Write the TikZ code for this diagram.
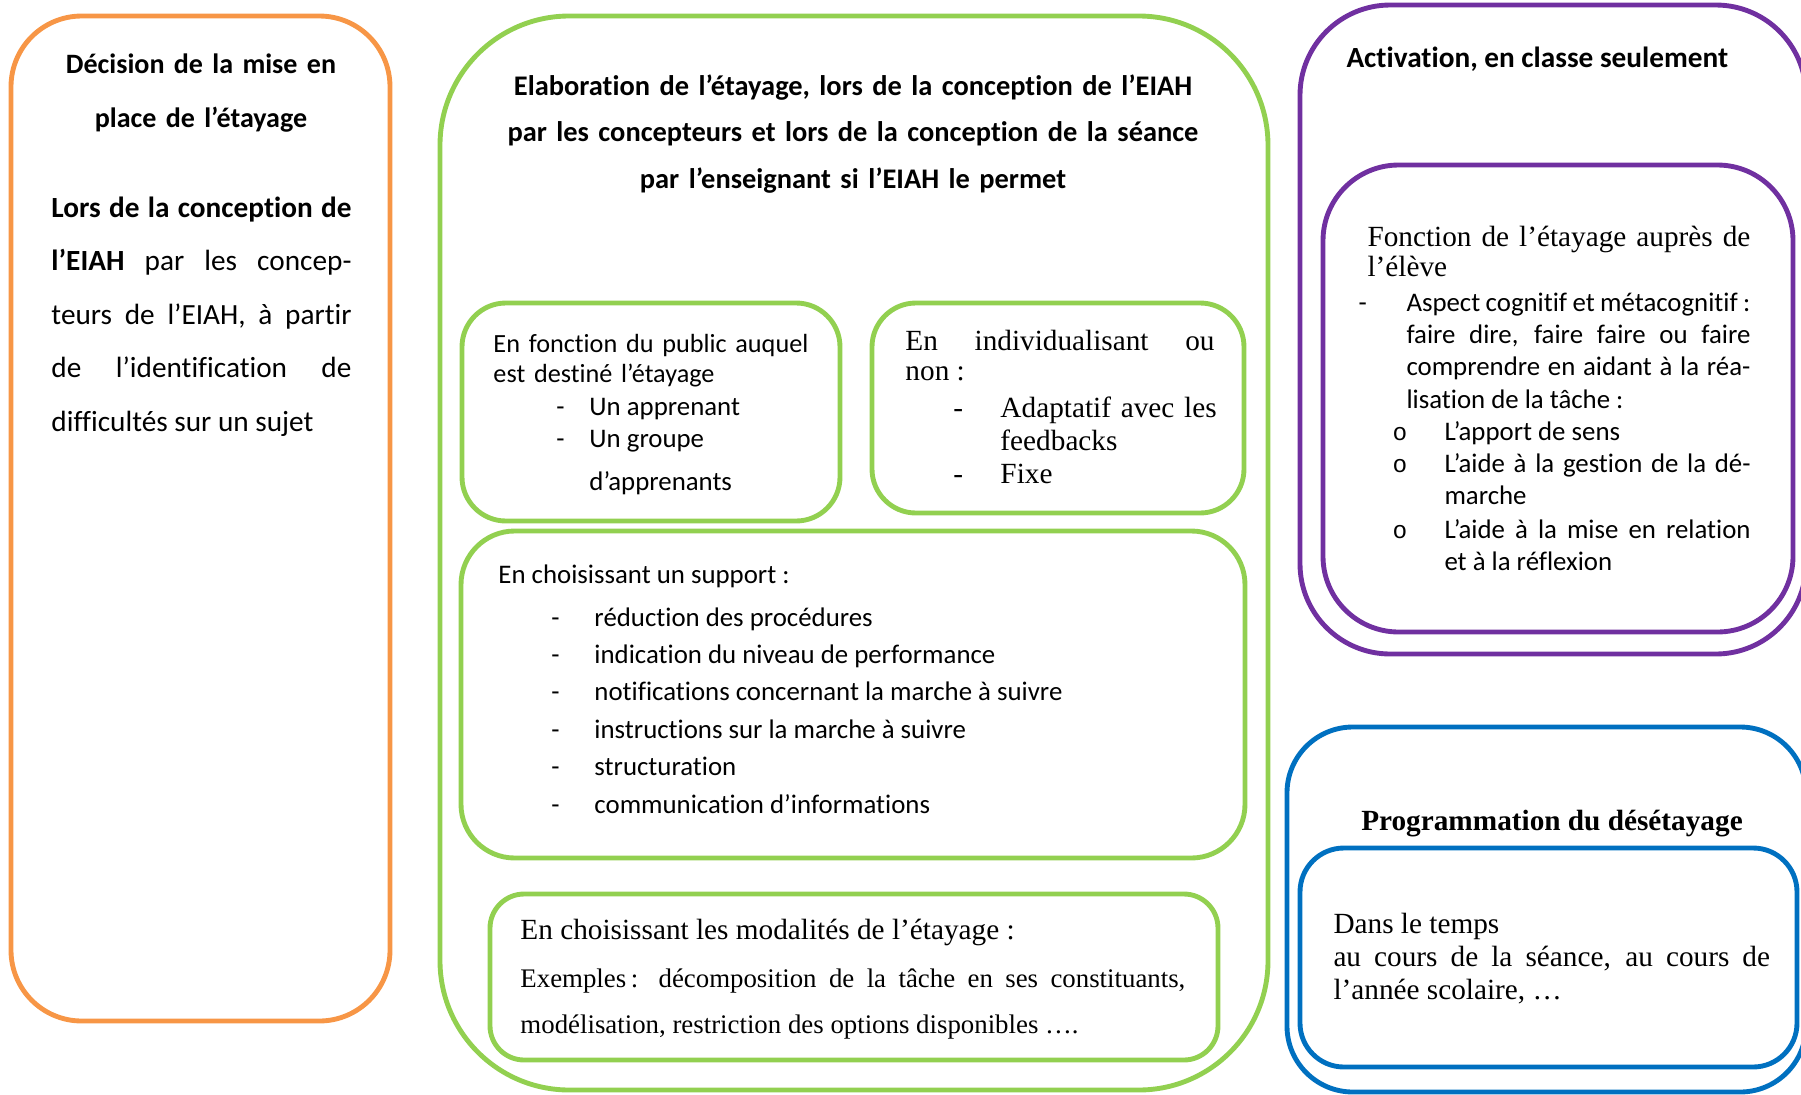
\documentclass[tikz,border=0pt]{standalone}
\usepackage{fontspec}
\setmainfont{Carlito}[Ligatures=NoCommon]
\newfontfamily\timesfont{Liberation Serif}[Ligatures=NoCommon]
\newfontfamily\monofont{Liberation Mono}
\usetikzlibrary{fit}

\definecolor{orangeline}{HTML}{F79646}
\definecolor{greenline}{HTML}{92D050}
\definecolor{purpleline}{HTML}{7030A0}
\definecolor{blueline}{HTML}{0070C0}

\hyphenpenalty=10000
\exhyphenpenalty=10000

\def\ca{\fontsize{11}{13.3}\selectfont}
\def\ti{\timesfont\fontsize{12}{13.7}\selectfont}

\tikzset{
  frame/.style={draw=#1, line width=2pt, inner sep=0pt},
  txt/.style={anchor=base west, inner sep=0pt},
  jpar/.style={txt, text width=#1, align=justify},
}

\begin{document}
\begin{tikzpicture}[x=0.41pt, y=-0.41pt]
  \useasboundingbox (0,0) rectangle (1801,1094);
  \clip (0,0) rectangle (1801,1094);

  % frames
  \node[frame=orangeline, rounded corners=29pt, fit={(11,16) (390,1021)}] (decision) {};
  \node[frame=greenline, rounded corners=53pt, fit={(440,16) (1268,1090)}] (elaboration) {};
  \node[frame=greenline, rounded corners=18pt, fit={(462,303) (840,521)}] (public) {};
  \node[frame=greenline, rounded corners=18pt, fit={(872,303) (1244,513)}] (individual) {};
  \node[frame=greenline, rounded corners=22pt, fit={(461,531) (1245,858)}] (support) {};
  \node[frame=greenline, rounded corners=14pt, fit={(490,894) (1218,1060)}] (modalites) {};
  \node[frame=purpleline, rounded corners=37pt, fit={(1300,5) (1806,654)}] (activation) {};
  \node[frame=purpleline, rounded corners=31pt, fit={(1323,165) (1793,632)}] (fonction) {};
  \node[frame=blueline, rounded corners=27pt, fit={(1287,727) (1806,1092)}] (desetayage) {};
  \node[frame=blueline, rounded corners=18pt, fit={(1300,848) (1797,1067)}] (temps) {};

  % decision
  \node[txt, anchor=base, text width=160pt, align=center, font=\bfseries\fontsize{11.5}{22.5}\selectfont]
    (decisiontitle) at (201,73) {Décision de la mise en\\place de l’étayage};
  \node[jpar=123pt, font=\fontsize{12}{22}\selectfont] (decisiontext) at (51,217)
    {\textbf{Lors de la conception de\linebreak l’EIAH} par les concep-\linebreak teurs de l’EIAH, à partir\linebreak de l’identification de\linebreak difficultés sur un sujet};

  % elaboration
  \node[txt, anchor=base, text width=300pt, align=center, font=\bfseries\fontsize{11.65}{19.1}\selectfont]
    (elabtitle) at (853,95) {Elaboration de l’étayage, lors de la conception de l’EIAH\\par les concepteurs et lors de la conception de la séance\\par l’enseignant si l’EIAH le permet};

  \begin{scope}[font=\ca]
    \node[txt, text width=140pt, align=left, font=\fontsize{10.75}{12.4}\selectfont] (publichead) at (493,352)
      {En fonction du public auquel\\est destiné l’étayage};
    \foreach \t [count=\k] in {Un apprenant, Un groupe}{
      \node[txt] (pubdash\k) at (556, 383+32*\k) {-};
      \node[txt] (pubitem\k) at (589, 383+32*\k) {\t};
    }
    \node[txt] (pubitem3) at (589,490) {d’apprenants};

    \node[txt] (supporthead) at (498,583) {En choisissant un support :};
    \foreach \t [count=\k] in {réduction des procédures, indication du niveau de performance,
      notifications concernant la marche à suivre, instructions sur la marche à suivre,
      structuration, communication d’informations}{
      \node[txt] (supdash\k) at (551, 588.6+37.4*\k) {-};
      \node[txt] (supitem\k) at (594, 588.6+37.4*\k) {\t};
    }
  \end{scope}

  \begin{scope}[font=\ti]
    \node[jpar=126.7pt, font=\timesfont\fontsize{12}{12.4}\selectfont] (indivhead) at (905,350)
      {En individualisant ou\linebreak non :};
    \node[txt] (indivdash1) at (953,417) {-};
    \node[txt, text width=92pt, align=left] (indivitem1) at (1000,417) {Adaptatif avec les\\feedbacks};
    \node[txt] (indivdash2) at (953,483) {-};
    \node[txt] (indivitem2) at (1000,483) {Fixe};

    \node[txt] (modahead) at (520,939) {En choisissant les modalités de l’étayage :};
    \node[jpar=272.6pt, font=\timesfont\fontsize{11}{18.9}\selectfont] (modaex) at (520,987)
      {Exemples\,: décomposition de la tâche en ses constituants,\linebreak modélisation, restriction des options disponibles ….};
  \end{scope}

  % activation
  \node[txt, font=\bfseries\fontsize{12}{14}\selectfont] (activtitle) at (1346,67) {Activation, en classe seulement};
  \node[jpar=157pt, font=\timesfont\fontsize{12}{12.7}\selectfont] (fonchead) at (1367,246)
    {Fonction de l’étayage auprès de\linebreak l’élève};
  \begin{scope}[font=\ca]
    \node[txt] (aspdash) at (1358,311) {-};
    \node[jpar=141pt] (aspect) at (1406,311)
      {Aspect cognitif et métacognitif :\linebreak faire dire, faire faire ou faire\linebreak comprendre en aidant à la réa-\linebreak lisation de la tâche :};
    \foreach \y in {440,472,538}
      \node[txt, anchor=base, font=\monofont\fontsize{10}{12}\selectfont] (bullet\y) at (1400,\y) {o};
    \node[txt] (apport) at (1444,440) {L’apport de sens};
    \node[jpar=125.5pt, font=\fontsize{11}{13.4}\selectfont] (gestion) at (1444,472)
      {L’aide à la gestion de la dé-\linebreak marche};
    \node[jpar=125.5pt, font=\fontsize{11}{13.4}\selectfont] (relation) at (1444,538)
      {L’aide à la mise en relation\linebreak et à la réflexion};
  \end{scope}

  % desetayage
  \node[txt, anchor=base, font=\timesfont\bfseries\fontsize{12}{14}\selectfont] (desettitle) at (1552,830)
    {Programmation du désétayage};
  \node[jpar=179pt, font=\ti] (tempstext) at (1333,933)
    {Dans le temps\newline au cours de la séance, au cours de\linebreak l’année scolaire, …};
\end{tikzpicture}
\end{document}
